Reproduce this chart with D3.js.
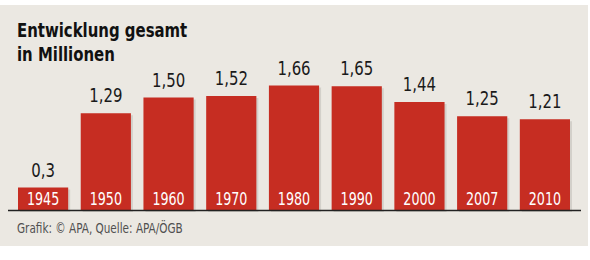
<!DOCTYPE html>
<html>
<head>
<meta charset="utf-8">
<script src="https://cdn.jsdelivr.net/npm/d3@7"></script>
<style>
  html, body { margin: 0; padding: 0; background: #ffffff; }
  svg { display: block; }
  .cond { font-family: "Liberation Sans Narrow", "DejaVu Sans Condensed", sans-serif; font-stretch: condensed; }
</style>
</head>
<body>
<div id="chart"></div>
<script>
// Daten: Mitglieder in Millionen
const years = ["1945", "1950", "1960", "1970", "1980", "1990", "2000", "2007", "2010"];
const values = [0.3, 1.29, 1.50, 1.52, 1.66, 1.65, 1.44, 1.25, 1.21];
const valueLabels = ["0,3", "1,29", "1,50", "1,52", "1,66", "1,65", "1,44", "1,25", "1,21"];
const titleLines = ["Entwicklung gesamt", "in Millionen"];
const source = "Grafik: © APA, Quelle: APA/ÖGB";

const width = 590, height = 260;
const baseY = 210;
const squeeze = 0.83; // Schrift schmaler machen

const svg = d3.select("#chart").append("svg")
    .attr("width", width)
    .attr("height", height);

// Hintergrund
svg.append("rect")
    .attr("x", 0).attr("y", 5)
    .attr("width", 588).attr("height", 241)
    .attr("fill", "#ebe8e2");

const x = d3.scaleBand()
    .domain(years)
    .range([18, 570])
    .paddingInner(0.2)
    .paddingOuter(0);

const y = d3.scaleLinear()
    .domain([0, 1.8])
    .range([baseY, baseY - 1.8 * 75]);

const data = years.map((yr, i) => ({ year: yr, value: values[i], label: valueLabels[i] }));

// Schatten
svg.selectAll(".shadow")
    .data(data)
    .enter()
    .append("rect")
    .attr("class", "shadow")
    .attr("x", d => x(d.year) + 2)
    .attr("y", d => y(d.value) + 2)
    .attr("width", x.bandwidth())
    .attr("height", d => baseY - y(d.value))
    .attr("fill", "#c9c6c0")
    .attr("opacity", 0.7);

// Balken
svg.selectAll(".bar")
    .data(data)
    .enter()
    .append("rect")
    .attr("class", "bar")
    .attr("x", d => x(d.year))
    .attr("y", d => y(d.value))
    .attr("width", x.bandwidth())
    .attr("height", d => baseY - y(d.value))
    .attr("fill", "#c62d22");

// Grundlinie
svg.append("line")
    .attr("x1", 8).attr("x2", 581)
    .attr("y1", baseY + 0.5).attr("y2", baseY + 0.5)
    .attr("stroke", "#222")
    .attr("stroke-width", 1.5);

// Jahreszahlen im Balken
svg.selectAll(".year")
    .data(data)
    .enter()
    .append("text")
    .attr("class", "year cond")
    .attr("transform", d => `translate(${x(d.year) + x.bandwidth() / 2},${baseY - 5}) scale(${squeeze},1)`)
    .attr("text-anchor", "middle")
    .attr("fill", "#ffffff")
    .style("font-size", "17px")
    .text(d => d.year);

// Werte über den Balken
svg.selectAll(".value")
    .data(data)
    .enter()
    .append("text")
    .attr("class", "value cond")
    .attr("transform", d => `translate(${x(d.year) + x.bandwidth() / 2},${y(d.value) - 11}) scale(${squeeze},1)`)
    .attr("text-anchor", "middle")
    .attr("fill", "#1a1a1a")
    .style("font-size", "20px")
    .text(d => d.label);

// Titel
svg.selectAll(".title")
    .data(titleLines)
    .enter()
    .append("text")
    .attr("class", "title cond")
    .attr("transform", (d, i) => `translate(17,${37 + i * 24}) scale(${squeeze},1)`)
    .attr("fill", "#111")
    .style("font-size", "20px")
    .style("font-weight", "bold")
    .text(d => d);

// Quelle
svg.append("text")
    .attr("class", "cond")
    .attr("transform", `translate(17,233) scale(${squeeze},1)`)
    .attr("fill", "#505050")
    .style("font-size", "14px")
    .text(source);
</script>
</body>
</html>
